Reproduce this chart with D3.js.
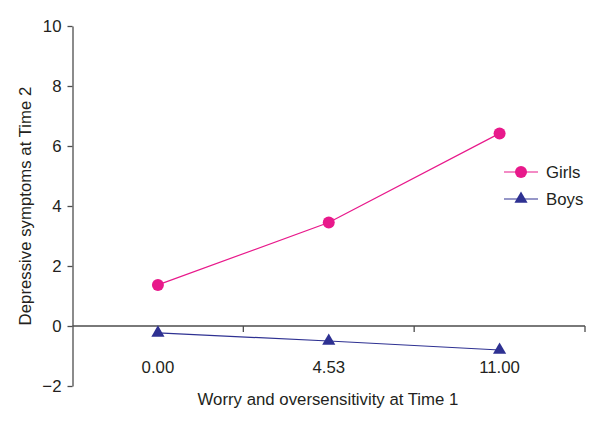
<html>
<head>
<script src="https://d3js.org/d3.v7.min.js"></script>
<style>
  body { margin: 0; background: #fff; }
  text { font-family: "Liberation Sans", Arial, sans-serif; fill: #231f20; }
</style>
</head>
<body>
<svg id="chart" width="600" height="421"></svg>
<script>
var categories = ["0.00", "4.53", "11.00"];
var girls = [1.37, 3.45, 6.42];
var boys = [-0.23, -0.5, -0.8];
var yTicks = [-2, 0, 2, 4, 6, 8, 10];

var pink = "#e8198b";
var blue = "#2e3192";
var axisColor = "#4d4d4d";
var fs = "16.8px";

var svg = d3.select("#chart");

var x = d3.scaleBand().domain(categories).range([72.5, 585]);
var y = d3.scaleLinear().domain([-2, 10]).range([386, 26]);

// y axis
var yAxis = svg.append("g")
  .attr("transform", "translate(72.5,0)")
  .call(d3.axisLeft(y).tickValues(yTicks).tickSize(5).tickSizeOuter(0)
    .tickFormat(function(d) { return d < 0 ? "\u2212" + Math.abs(d) : d; }));
yAxis.attr("font-size", null).attr("font-family", null);
yAxis.select(".domain").attr("stroke", axisColor).attr("stroke-width", 1.3);
yAxis.selectAll(".tick line").attr("stroke", axisColor).attr("stroke-width", 1.3);
yAxis.selectAll(".tick text").attr("x", -11).attr("dy", "0.35em")
  .style("font-size", fs).attr("fill", "#231f20");

// x axis on zero line, ticks at band edges
var xAxis = svg.append("g").attr("transform", "translate(0," + y(0) + ")");
xAxis.append("line")
  .attr("x1", x.range()[0]).attr("x2", x.range()[1])
  .attr("stroke", axisColor).attr("stroke-width", 1.3);
xAxis.selectAll(".edge")
  .data(categories.slice(1).concat(["end"]))
  .enter().append("line")
  .attr("x1", function(d, i) { return i < categories.length - 1 ? x(d) : x.range()[1]; })
  .attr("x2", function(d, i) { return i < categories.length - 1 ? x(d) : x.range()[1]; })
  .attr("y1", 0).attr("y2", 6)
  .attr("stroke", axisColor).attr("stroke-width", 1.3);

svg.selectAll(".xlab")
  .data(categories)
  .enter().append("text")
  .attr("x", function(d) { return x(d) + x.bandwidth() / 2; })
  .attr("y", 373)
  .attr("text-anchor", "middle")
  .style("font-size", fs)
  .text(function(d) { return d; });

// axis titles
svg.append("text")
  .attr("x", 328).attr("y", 405)
  .attr("text-anchor", "middle")
  .style("font-size", fs)
  .text("Worry and oversensitivity at Time 1");

svg.append("text")
  .attr("transform", "translate(31," + ((y(10) + y(-2)) / 2) + ") rotate(-90)")
  .attr("text-anchor", "middle")
  .style("font-size", fs)
  .text("Depressive symptoms at Time 2");

var cx = function(d, i) { return x(categories[i]) + x.bandwidth() / 2; };

var line = d3.line()
  .x(function(d, i) { return cx(d, i); })
  .y(function(d) { return y(d); });

svg.append("path").datum(girls)
  .attr("d", line).attr("fill", "none").attr("stroke", pink).attr("stroke-width", 1.2);
svg.append("path").datum(boys)
  .attr("d", line).attr("fill", "none").attr("stroke", blue).attr("stroke-width", 1.2);

var tri = d3.symbol().type(d3.symbolTriangle).size(75);

svg.selectAll(".girl")
  .data(girls)
  .enter().append("circle")
  .attr("cx", cx).attr("cy", function(d) { return y(d); })
  .attr("r", 6).attr("fill", pink);

svg.selectAll(".boy")
  .data(boys)
  .enter().append("path")
  .attr("d", tri)
  .attr("transform", function(d, i) { return "translate(" + cx(d, i) + "," + y(d) + ")"; })
  .attr("fill", blue);

// legend
var legend = [
  { name: "Girls", color: pink, y: 172 },
  { name: "Boys", color: blue, y: 199 }
];
legend.forEach(function(l, i) {
  var g = svg.append("g");
  g.append("line").attr("x1", 504).attr("x2", 538).attr("y1", l.y).attr("y2", l.y)
    .attr("stroke", l.color).attr("stroke-width", 1.2);
  if (i === 0) {
    g.append("circle").attr("cx", 521).attr("cy", l.y).attr("r", 6).attr("fill", l.color);
  } else {
    g.append("path").attr("d", tri).attr("transform", "translate(521," + l.y + ")").attr("fill", l.color);
  }
  g.append("text").attr("x", 546).attr("y", l.y).attr("dy", "0.36em")
    .style("font-size", fs).text(l.name);
});
</script>
</body>
</html>
